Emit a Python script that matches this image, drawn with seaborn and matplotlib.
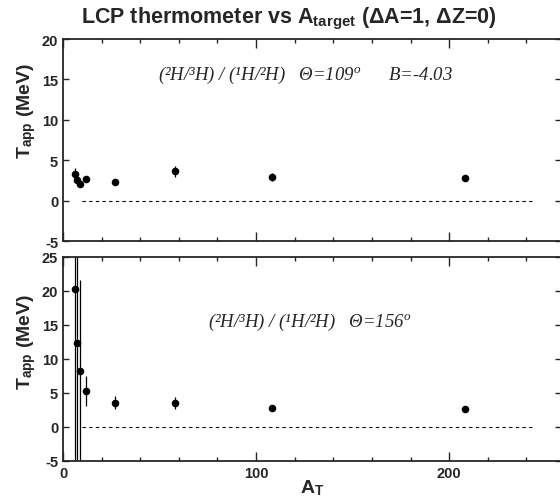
import numpy as np
import pandas as pd
import matplotlib
matplotlib.use("Agg")
import matplotlib.pyplot as plt
import seaborn as sns

# ==================== DATA ====================
a_target = [6, 7, 9, 12, 27, 58, 108, 208]

# Theta = 109 deg
t_109 = [3.3, 2.6, 2.1, 2.7, 2.35, 3.65, 3.0, 2.8]
err_109 = [0.75, 0.4, 0.3, 0.3, 0.2, 0.7, 0.5, 0.4]

# Theta = 156 deg
t_156 = [20.3, 12.3, 8.3, 5.25, 3.6, 3.5, 2.8, 2.6]
err_156 = [35.0, 20.0, 13.3, 2.2, 1.0, 0.85, 0.2, 0.2]

ratio_text = "(²H/³H) / (¹H/²H)"
panel_texts = [
    ratio_text + "   Θ=109$^o$      B=-4.03",
    ratio_text + "   Θ=156$^o$",
]

# ==================== STYLE ====================
sns.set_style("ticks")
plt.rcParams["font.family"] = ["Liberation Sans", "DejaVu Sans"]
plt.rcParams["mathtext.fontset"] = "custom"
plt.rcParams["mathtext.it"] = "Liberation Serif:italic:normal"
plt.rcParams["mathtext.rm"] = "Liberation Serif:normal"
plt.rcParams["mathtext.bf"] = "Liberation Sans:bold"
plt.rcParams["axes.unicode_minus"] = False

fig = plt.figure(figsize=(5.6, 5.02), dpi=100)
ax_top = fig.add_axes([0.1125, 0.5173, 0.8895, 0.403])
ax_bot = fig.add_axes([0.1125, 0.0797, 0.8895, 0.4064])

panels = [
    (ax_top, t_109, err_109, (-5, 20), np.arange(-5, 21, 5), panel_texts[0], (158, 75), 0.65),
    (ax_bot, t_156, err_156, (-5, 25), np.arange(-5, 26, 5), panel_texts[1], (208, 322), 0.59),
]

for ax, vals, errs, ylim, yticks, txt, (tx, ty), ylab_y in panels:
    df = pd.DataFrame({"A": a_target, "T": vals, "err": errs})
    ax.errorbar(df["A"], df["T"], yerr=df["err"], fmt="none",
                ecolor="black", elinewidth=0.9, capsize=0, zorder=2)
    sns.scatterplot(data=df, x="A", y="T", ax=ax, color="black",
                    s=30, edgecolor="black", linewidth=0, zorder=3)
    ax.plot([10, 244], [0, 0], ls=(0, (3, 3)), color="black", lw=0.8)

    ax.set_xlim(0, 258)
    ax.set_ylim(*ylim)
    ax.set_yticks(yticks)
    ax.set_xticks([0, 100, 200])
    ax.set_xticks(np.arange(0, 258, 20), minor=True)
    ax.tick_params(axis="both", which="both", direction="in", top=True, right=True,
                   width=1.0, labelsize=10.5)
    ax.tick_params(axis="x", which="major", length=6.5)
    ax.tick_params(axis="x", which="minor", length=3)
    ax.tick_params(axis="y", which="major", length=4.5)
    for lbl in ax.get_xticklabels() + ax.get_yticklabels():
        lbl.set_fontweight("bold")
    for sp in ax.spines.values():
        sp.set_linewidth(1.3)
    ax.set_xlabel("")
    ax.set_ylabel(r"T$_{\mathbf{app}}$ (MeV)", fontsize=14, fontweight="bold")
    ax.yaxis.set_label_coords(-0.05, ylab_y)

    # annotation placed in pixel coordinates of the reference
    fig.text(tx / 560, 1 - ty / 502, txt, fontsize=13.5, va="center", ha="left",
             family="Liberation Serif", style="italic")

ax_top.tick_params(axis="x", labelbottom=False)
ax_bot.set_xlabel(r"A$_{\mathbf{T}}$", fontsize=14, fontweight="bold", labelpad=-2)

fig.suptitle(r"LCP thermometer vs A$_{\mathbf{target}}$ ($\mathbf{\Delta}$A=1, $\mathbf{\Delta}$Z=0)",
             fontsize=15.5, fontweight="bold", x=0.516, y=0.99)

fig.savefig("out.png", dpi=100)
